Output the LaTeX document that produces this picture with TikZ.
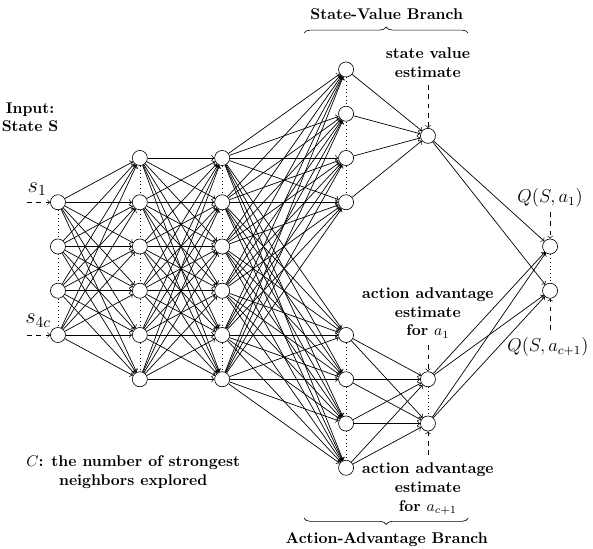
\documentclass[tikz,border=0pt]{standalone}
\usepackage{amsmath}
\usepackage{amssymb}
\usepackage{tikz}
\usepackage{xcolor}
\usetikzlibrary{decorations.pathreplacing}
\tikzset{
    net-node/.style = {draw, circle, fill=white, minimum size=0.34cm, inner sep=0pt},
    net-edge/.style = {->, line width=0.45pt},
    hint-arrow/.style = {->, dashed},
    hint-text/.style = {font=\bfseries, align=center},
    input-label/.style = {font=\Large},
    output-label/.style = {font=\large},
    branch-brace/.style = {decorate, decoration={brace, amplitude=4pt}},
}

\begin{document}
\begin{tikzpicture}
\useasboundingbox (0,-6.32) rectangle (13.40,6.07);

% layers
\foreach \i/\y in {1/1.5, 2/0.5, 3/-0.5, 4/-1.5}
    \node[net-node] (in-\i) at (1.31,\y) {};
\foreach \i/\y in {1/2.5, 2/1.5, 3/0.5, 4/-0.5, 5/-1.5, 6/-2.5} {
    \node[net-node] (ha-\i) at (3.16,\y) {};
    \node[net-node] (hb-\i) at (5.02,\y) {};
}
\foreach \i/\y in {1/4.5, 2/3.5, 3/2.5, 4/1.5}
    \node[net-node] (sv-\i) at (7.82,\y) {};
\foreach \i/\y in {1/-1.5, 2/-2.5, 3/-3.5, 4/-4.5}
    \node[net-node] (aa-\i) at (7.82,\y) {};
\node[net-node] (val) at (9.67,3) {};
\node[net-node] (adv-1) at (9.67,-2.5) {};
\node[net-node] (adv-2) at (9.67,-3.5) {};
\node[net-node] (q-1) at (12.43,0.5) {};
\node[net-node] (q-2) at (12.43,-0.5) {};

% connections
\foreach \i in {1,...,4}
    \foreach \j in {1,...,6}
        \draw[net-edge] (in-\i) -- (ha-\j);
\foreach \i in {1,...,6}
    \foreach \j in {1,...,6}
        \draw[net-edge] (ha-\i) -- (hb-\j);
\foreach \i in {1,...,6}
    \foreach \j in {1,...,4} {
        \draw[net-edge] (hb-\i) -- (sv-\j);
        \draw[net-edge] (hb-\i) -- (aa-\j);
    }
\foreach \j in {1,...,4} {
    \draw[net-edge] (sv-\j) -- (val);
    \draw[net-edge] (aa-\j) -- (adv-1);
    \draw[net-edge] (aa-\j) -- (adv-2);
}
\foreach \j in {1,2} {
    \draw[net-edge] (val) -- (q-\j);
    \draw[net-edge] (adv-1) -- (q-\j);
    \draw[net-edge] (adv-2) -- (q-\j);
}

% dots between neurons
\foreach \i [evaluate=\i as \k using int(\i+1)] in {1,...,3}
    \draw[dotted] (in-\i) -- (in-\k);
\foreach \i [evaluate=\i as \k using int(\i+1)] in {1,...,5} {
    \draw[dotted] (ha-\i) -- (ha-\k);
    \draw[dotted] (hb-\i) -- (hb-\k);
}
\foreach \i [evaluate=\i as \k using int(\i+1)] in {1,...,3} {
    \draw[dotted] (sv-\i) -- (sv-\k);
    \draw[dotted] (aa-\i) -- (aa-\k);
}
\draw[dotted] (adv-1) -- (adv-2);
\draw[dotted] (q-1) -- (q-2);

% inputs
\node[hint-text] (input-lbl) at (0.68,3.42) {Input:\\State S};
\coordinate (s1-tail) at (0.61,1.5);
\coordinate (s4c-tail) at (0.61,-1.5);
\draw[hint-arrow] (s1-tail) -- (in-1);
\draw[hint-arrow] (s4c-tail) -- (in-4);
\node[input-label] (s1-lbl) at (0.84,1.8) {$s_1$};
\node[input-label] (s4c-lbl) at (0.86,-1.18) {$s_{4c}$};

% estimates
\node[hint-text] (val-lbl) at (9.67,4.66) {state value\\estimate};
\coordinate (val-tail) at (9.67,4.15);
\draw[hint-arrow] (val-tail) -- (val);
\node[hint-text] (adv1-lbl) at (9.67,-1.0) {action advantage\\estimate\\for $a_1$};
\coordinate (adv1-tail) at (9.67,-1.73);
\draw[hint-arrow] (adv1-tail) -- (adv-1);
\node[hint-text] (adv2-lbl) at (9.67,-4.98) {action advantage\\estimate\\for $a_{c+1}$};
\coordinate (adv2-tail) at (9.67,-4.21);
\draw[hint-arrow] (adv2-tail) -- (adv-2);

% outputs
\node[output-label] (q1-lbl) at (12.43,1.6) {$Q(S,a_1)$};
\coordinate (q1-tail) at (12.43,1.28);
\draw[hint-arrow] (q1-tail) -- (q-1);
\node[output-label] (q2-lbl) at (12.38,-1.77) {$Q(S,a_{c+1})$};
\coordinate (q2-tail) at (12.43,-1.39);
\draw[hint-arrow] (q2-tail) -- (q-2);

% branches
\coordinate (sv-left) at (6.87,5.32);
\coordinate (sv-right) at (10.58,5.32);
\draw[branch-brace] (sv-left) -- (sv-right);
\node[hint-text] (sv-title) at (8.74,5.75) {State-Value Branch};
\coordinate (aa-left) at (6.87,-5.64);
\coordinate (aa-right) at (10.58,-5.64);
\draw[branch-brace] (aa-right) -- (aa-left);
\node[hint-text] (aa-title) at (8.74,-6.12) {Action-Advantage Branch};

\node[hint-text] (c-note) at (3.01,-4.6) {$C$: the number of strongest\\neighbors explored};
\end{tikzpicture}
\end{document}
